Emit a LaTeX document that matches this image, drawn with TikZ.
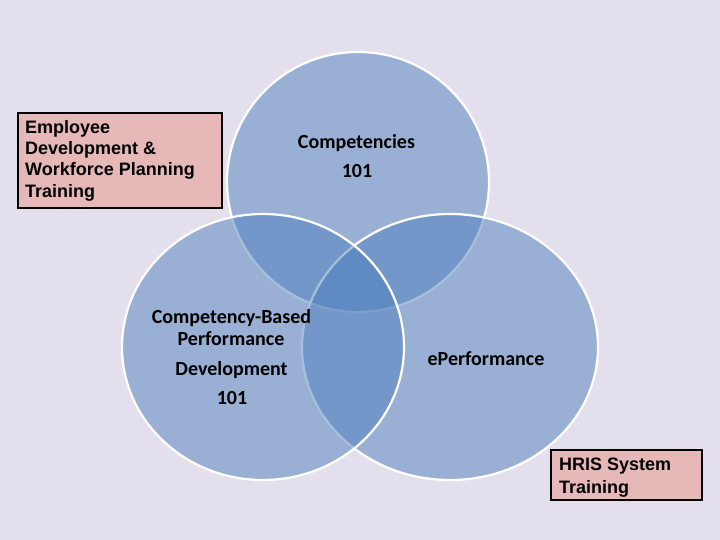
\documentclass[tikz,border=0pt]{standalone}
\usepackage{fontspec}
\setmainfont{Carlito}
\newfontfamily\arialfont{Liberation Sans}
\definecolor{bgc}{RGB}{228,223,236}
\definecolor{circfill}{RGB}{79,129,189}
\definecolor{boxfill}{RGB}{230,185,184}
\tikzset{
  vcirc/.style={fill=circfill, fill opacity=0.5, draw=white, draw opacity=1, line width=2.2pt},
  ctext/.style={font=\fontsize{20}{24}\selectfont\bfseries, text=black, inner sep=0pt, anchor=base},
  boxrect/.style={fill=boxfill, draw=black, line width=1.8pt},
  btext/.style={font=\arialfont\bfseries\fontsize{18}{21}\selectfont, inner sep=0pt, anchor=base west, text=black},
}
\begin{document}
\begin{tikzpicture}[x=1pt,y=-1pt]
\fill[bgc] (0,0) rectangle (720,540);
\useasboundingbox (0,0) rectangle (720,540);
% circles: top, right, left
\draw[vcirc] (358,182) ellipse [x radius=131, y radius=130];
\draw[vcirc] (450,347) ellipse [x radius=148, y radius=133];
\draw[vcirc] (263,347) ellipse [x radius=141, y radius=133];
% circle texts
\node[ctext] (c1) at (356.5,148.3) {Competencies};
\node[ctext] (c2) at (357,178) {101};
\node[ctext] (l1) at (231.5,323.3) {Competency-Based};
\node[ctext] (l2) at (231,345) {Performance};
\node[ctext] (l3) at (231.5,375.7) {Development};
\node[ctext] (l4) at (232,404.3) {101};
\node[ctext] (r1) at (486,365) {ePerformance};
% boxes
\draw[boxrect] (18,113) rectangle (222,208);
\node[btext] (b1) at (25,134) {Employee};
\node[btext] (b2) at (25,155) {Development \&};
\node[btext] (b3) at (25,176) {Workforce Planning};
\node[btext] (b4) at (25,197) {Training};
\draw[boxrect] (551,450) rectangle (702,500);
\node[btext] (h1) at (559,470) {HRIS System};
\node[btext] (h2) at (559,493) {Training};
\end{tikzpicture}
\end{document}
